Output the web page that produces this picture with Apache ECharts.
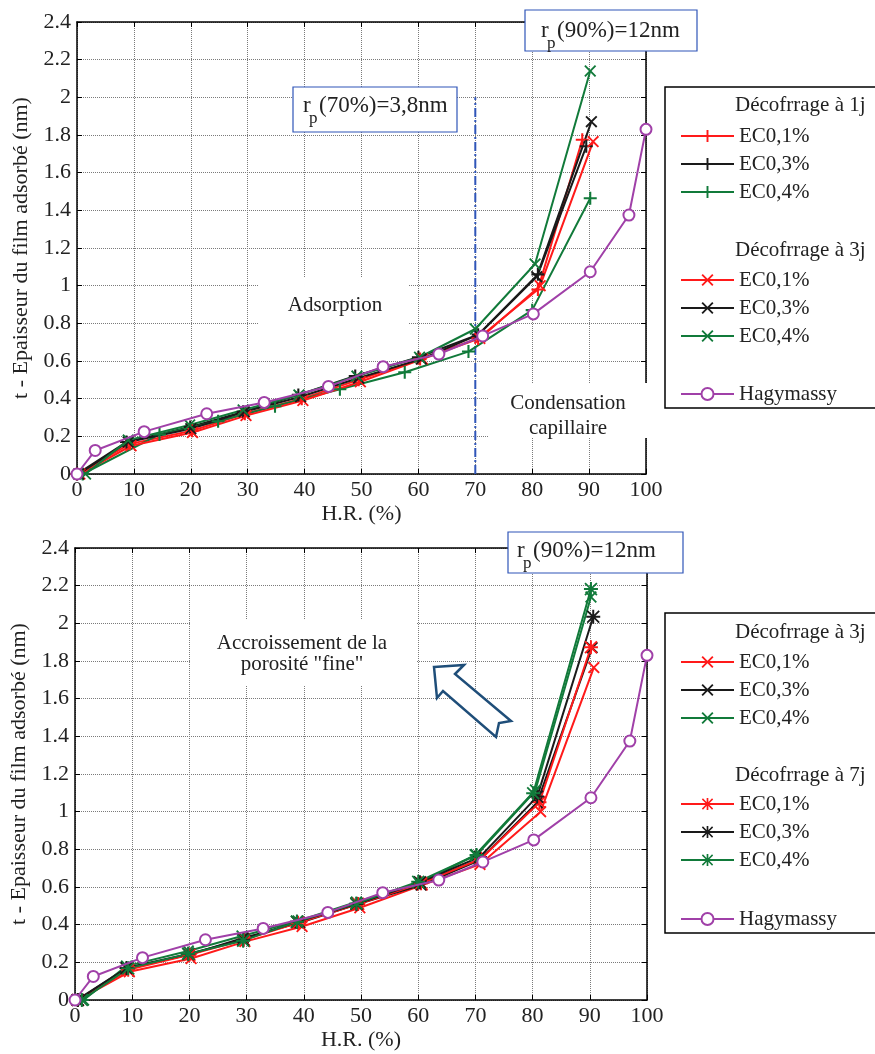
<!DOCTYPE html>
<html><head><meta charset="utf-8">
<script src="https://cdn.jsdelivr.net/npm/echarts@6/dist/echarts.min.js"></script>
<style>html,body{margin:0;padding:0;background:#fff}#c{width:875px;height:1054px}</style>
</head><body><div id="c"></div>
<script>
// ---------- DATA ----------
const xMin = 0, xMax = 100, xStep = 10;
const yMin = 0, yMax = 2.4, yStep = 0.2;

// Hagymassy reference curve
const hagX = [0, 3.2, 11.8, 22.8, 32.9, 44.2, 53.8, 63.6, 71.3, 80.2, 90.2, 97, 100];
const hagY = [0, 0.125, 0.225, 0.32, 0.38, 0.465, 0.57, 0.637, 0.733, 0.85, 1.074, 1.375, 1.83];

// Décofrrage à 1j
const d1_01X = [0, 9.3, 20.2, 29.5, 39.5, 49.5, 60.3, 70.5, 81, 88.8];
const d1_01Y = [0, 0.16, 0.23, 0.32, 0.40, 0.50, 0.61, 0.72, 0.98, 1.775];
const d1_03X = [0, 8.7, 19.9, 29.2, 38.9, 48.9, 60, 70.5, 81, 89.5];
const d1_03Y = [0, 0.17, 0.25, 0.33, 0.42, 0.52, 0.62, 0.74, 1.06, 1.74];
const d1_04X = [1, 14.5, 24.8, 34.8, 46.2, 57.6, 68.8, 80, 90.2];
const d1_04Y = [0, 0.21, 0.28, 0.36, 0.45, 0.54, 0.65, 0.87, 1.464];

// Décofrrage à 3j
const d3_01X = [0.5, 9.5, 20.3, 29.7, 39.7, 49.8, 60.7, 70.8, 81.4, 90.7];
const d3_01Y = [0, 0.15, 0.22, 0.31, 0.39, 0.49, 0.61, 0.72, 1.0, 1.765];
const d3_03X = [0.3, 9, 20, 29.4, 39.3, 49.5, 60.5, 70.6, 80.8, 90.4];
const d3_03Y = [0, 0.17, 0.24, 0.33, 0.41, 0.51, 0.61, 0.74, 1.048, 1.871];
const d3_04X = [1.5, 9, 19.8, 29.2, 39, 49.2, 60.2, 70, 80.5, 90.2];
const d3_04Y = [0, 0.18, 0.26, 0.34, 0.42, 0.52, 0.62, 0.77, 1.115, 2.14];

// Décofrrage à 7j
const d7_01X = [0.5, 9.3, 20, 29.5, 39, 49.5, 60.5, 71, 81.2, 90.2];
const d7_01Y = [0, 0.16, 0.24, 0.32, 0.41, 0.51, 0.62, 0.75, 1.05, 1.873];
const d7_03X = [0.5, 9, 19.8, 29.4, 38.8, 49.2, 60.3, 70.8, 80.8, 90.6];
const d7_03Y = [0, 0.17, 0.245, 0.32, 0.415, 0.51, 0.625, 0.76, 1.08, 2.035];
const d7_04X = [1.2, 9.3, 19.8, 29.4, 38.8, 49.2, 60, 70.2, 80.1, 90.2];
const d7_04Y = [0, 0.168, 0.245, 0.315, 0.416, 0.513, 0.628, 0.77, 1.098, 2.182];

// Limit line (70 % H.R.)
const limX = [70, 70];
const limY = [0, 2.0];

const legendHeaders = ['Décofrrage à 1j', 'Décofrrage à 3j', 'Décofrrage à 7j'];
const yTitle = 't - Epaisseur du film adsorbé (nm)';
const xTitle = 'H.R. (%)';

// ---------- STYLE ----------
const FONT = 'Liberation Serif';
const RED = '#ff1a1a', BLACK = '#1a1a1a', GREEN = '#117a3a', PURPLE = '#a040a8';
const BLUE = '#2f55b8', ARROW = '#1f4e79';
const PLUS = 'path://M42,0H58V100H42Z M0,42H100V58H0Z';
const CROSS = 'path://M11,0L50,39L89,0L100,11L61,50L100,89L89,100L50,61L11,100L0,89L39,50L0,11Z';
const STAR = 'path://M43,0H57V100H43Z M0,43H100V57H0Z M12,3L50,41L88,3L97,12L59,50L97,88L88,97L50,59L12,97L3,88L41,50L3,12Z';

const pairs = (xs, ys) => xs.map((x, i) => [x, ys[i]]);

function ser(name, xs, ys, color, sym, size, gi) {
  return {
    type: 'line', name: name, data: pairs(xs, ys),
    xAxisIndex: gi * 2, yAxisIndex: gi * 2,
    symbol: sym, symbolSize: size,
    lineStyle: { color: color, width: 2 },
    itemStyle: { color: color, borderWidth: 0 },
    z: 3
  };
}
function hag(name, gi) {
  return {
    type: 'line', name: name, data: pairs(hagX, hagY),
    xAxisIndex: gi * 2, yAxisIndex: gi * 2,
    symbol: 'emptyCircle', symbolSize: 11,
    lineStyle: { color: PURPLE, width: 2 },
    itemStyle: { color: PURPLE, borderColor: PURPLE, borderWidth: 2 },
    z: 4
  };
}

const grids = [
  { left: 77, top: 22, width: 569, height: 452 },
  { left: 75, top: 548, width: 572, height: 452 }
];

function xAxes(gi) {
  const base = {
    type: 'value', gridIndex: gi, min: xMin, max: xMax, interval: xStep,
    axisLine: { show: true, onZero: false, lineStyle: { color: '#000', width: 1.5 } },
    axisTick: { show: true, inside: true, length: 5, lineStyle: { color: '#000', width: 1 } }
  };
  return [
    Object.assign({}, base, {
      position: 'bottom',
      axisLabel: { show: true, margin: 5, fontFamily: FONT, fontSize: 22, color: '#222', showMinLabel: true, showMaxLabel: true },
      splitLine: { show: true, lineStyle: { color: '#7a7a7a', type: 'dotted', width: 1 } },
      name: xTitle, nameLocation: 'middle', nameGap: 29,
      nameTextStyle: { fontFamily: FONT, fontSize: 22, color: '#222' }
    }),
    Object.assign({}, base, { position: 'top', axisLabel: { show: false }, splitLine: { show: false } })
  ];
}
function yAxes(gi) {
  const base = {
    type: 'value', gridIndex: gi, min: yMin, max: yMax, interval: yStep,
    axisLine: { show: true, onZero: false, lineStyle: { color: '#000', width: 1.5 } },
    axisTick: { show: true, inside: true, length: 5, lineStyle: { color: '#000', width: 1 } }
  };
  return [
    Object.assign({}, base, {
      position: 'left',
      axisLabel: { show: true, margin: 6, fontFamily: FONT, fontSize: 22, color: '#222', showMinLabel: true, showMaxLabel: true },
      splitLine: { show: true, lineStyle: { color: '#7a7a7a', type: 'dotted', width: 1 } },
      name: yTitle, nameLocation: 'middle', nameGap: 41, nameRotate: 90,
      nameTextStyle: { fontFamily: FONT, fontSize: 22, color: '#222' }
    }),
    Object.assign({}, base, { position: 'right', axisLabel: { show: false }, splitLine: { show: false } })
  ];
}

const series = [
  ser('EC0,1%|1j', d1_01X, d1_01Y, RED, PLUS, 13, 0),
  ser('EC0,3%|1j', d1_03X, d1_03Y, BLACK, PLUS, 13, 0),
  ser('EC0,4%|1j', d1_04X, d1_04Y, GREEN, PLUS, 13, 0),
  ser('EC0,1%|3j', d3_01X, d3_01Y, RED, CROSS, 12, 0),
  ser('EC0,3%|3j', d3_03X, d3_03Y, BLACK, CROSS, 12, 0),
  ser('EC0,4%|3j', d3_04X, d3_04Y, GREEN, CROSS, 12, 0),
  hag('Hagymassy|a', 0),
  {
    type: 'line', name: 'limit', data: pairs(limX, limY), xAxisIndex: 0, yAxisIndex: 0,
    symbol: 'none', silent: true, z: 2,
    lineStyle: { color: BLUE, width: 2, type: [9, 3, 2, 3] }
  },
  ser('EC0,1%|3jb', d3_01X, d3_01Y, RED, CROSS, 12, 1),
  ser('EC0,3%|3jb', d3_03X, d3_03Y, BLACK, CROSS, 12, 1),
  ser('EC0,4%|3jb', d3_04X, d3_04Y, GREEN, CROSS, 12, 1),
  ser('EC0,1%|7j', d7_01X, d7_01Y, RED, STAR, 14, 1),
  ser('EC0,3%|7j', d7_03X, d7_03Y, BLACK, STAR, 14, 1),
  ser('EC0,4%|7j', d7_04X, d7_04Y, GREEN, STAR, 14, 1),
  hag('Hagymassy|b', 1)
];

function leg(data, top) {
  return {
    data: data, orient: 'vertical', left: 675, top: top,
    itemWidth: 53, itemHeight: 15, itemGap: 6, selectedMode: false,
    formatter: n => n.split('|')[0],
    textStyle: { fontFamily: FONT, fontSize: 21, color: '#222', lineHeight: 22 }
  };
}
const legends = [
  leg(['EC0,1%|1j', 'EC0,3%|1j', 'EC0,4%|1j'], 120),
  leg(['EC0,1%|3j', 'EC0,3%|3j', 'EC0,4%|3j'], 264),
  leg(['Hagymassy|a'], 378),
  leg(['EC0,1%|3jb', 'EC0,3%|3jb', 'EC0,4%|3jb'], 646),
  leg(['EC0,1%|7j', 'EC0,3%|7j', 'EC0,4%|7j'], 788),
  leg(['Hagymassy|b'], 903)
];

function box(x, y, w, h, stroke, lw) {
  return { type: 'rect', shape: { x: x, y: y, width: w, height: h }, z: 1,
    style: { fill: '#fff', stroke: stroke || null, lineWidth: lw || 0 } };
}
function txt(x, y, s, size, align) {
  return { type: 'text', x: x, y: y, z: 2,
    style: { text: s, font: size + 'px "' + FONT + '"', fill: '#222', textAlign: align || 'left', textVerticalAlign: 'middle' } };
}
function rpLabel(x, y, rest) {
  return [txt(x, y, 'r', 23), txt(x + 6, y + 13, 'p', 17), txt(x + 16, y, rest, 23)];
}

const graphics = [].concat(
  // top annotations
  [box(525, 10, 172, 41, BLUE, 1.2)], rpLabel(541, 31, '(90%)=12nm'),
  [box(293, 87, 164, 45, BLUE, 1.2)], rpLabel(303, 106, '(70%)=3,8nm'),
  [box(258, 278, 150, 52), txt(335, 305, 'Adsorption', 21, 'center')],
  [box(488, 383, 174, 55), txt(568, 403, 'Condensation', 21, 'center'), txt(568, 428, 'capillaire', 21, 'center')],
  // bottom annotations
  [box(508, 532, 175, 41, BLUE, 1.2)], rpLabel(517, 551, '(90%)=12nm'),
  [box(190, 620, 226, 66), txt(302, 643, 'Accroissement de la', 21, 'center'), txt(302, 664, 'porosité "fine"', 21, 'center')],
  [{ type: 'polygon', z: 2,
     shape: { points: [[434, 667], [464, 665], [455, 674], [511, 721], [499, 723], [496, 737], [443, 691], [437, 698]] },
     style: { fill: '#fff', stroke: ARROW, lineWidth: 2.5 } }],
  // legend frames
  [box(665, 87, 240, 321, '#000', 1.5), box(665, 613, 240, 320, '#000', 1.5)],
  [txt(735, 105, legendHeaders[0], 21), txt(735, 250, legendHeaders[1], 21),
   txt(735, 632, legendHeaders[1], 21), txt(735, 775, legendHeaders[2], 21)]
);

const chart = echarts.init(document.getElementById('c'), null, { renderer: 'canvas' });
chart.setOption({
  animation: false,
  backgroundColor: '#fff',
  grid: grids,
  xAxis: xAxes(0).concat(xAxes(1)),
  yAxis: yAxes(0).concat(yAxes(1)),
  legend: legends,
  series: series,
  graphic: graphics
});
</script>
</body></html>
